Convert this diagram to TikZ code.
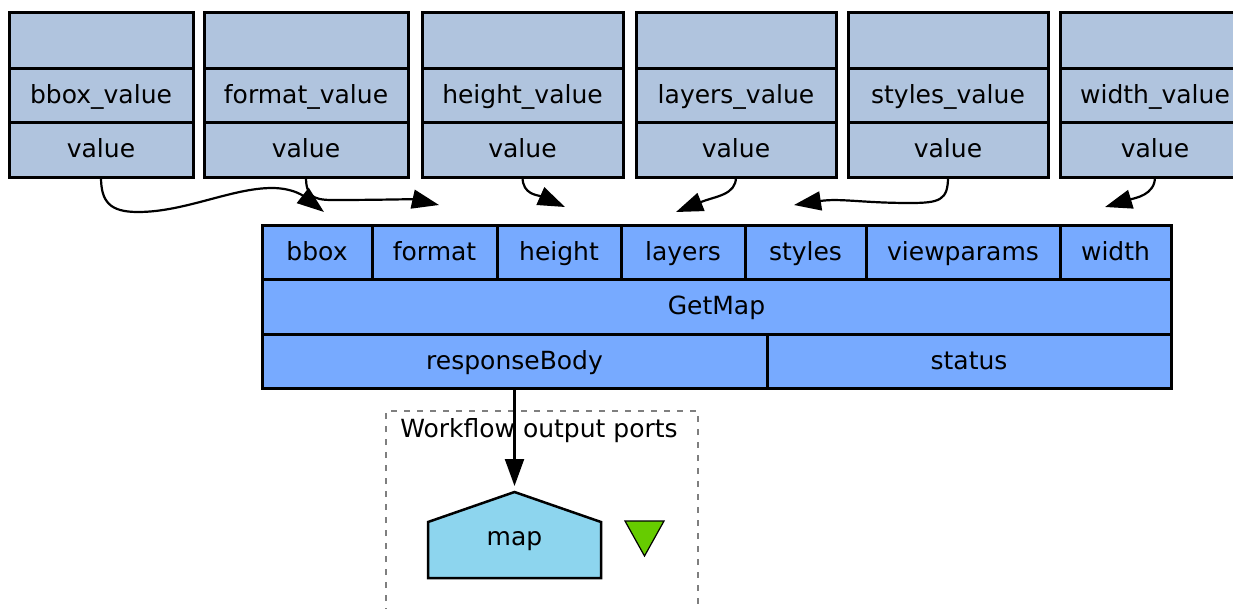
\documentclass[tikz,border=0pt]{standalone}
\usepackage{fontspec}
\setmainfont{DejaVu Sans}
\usetikzlibrary{arrows.meta}
\definecolor{valfill}{HTML}{B0C4DE}
\definecolor{procfill}{HTML}{77AAFF}
\definecolor{outfill}{HTML}{8DD5EE}
\definecolor{portgreen}{HTML}{66CC00}
\definecolor{groupline}{HTML}{7F7F7F}

% cell given by its corners: style, name, x1, y1, x2, y2, text
\newcommand{\cellbox}[7]{%
  \node[#1, minimum width={#5-#3}, minimum height={#6-#4}] (#2)
    at ({(#3+#5)/2},{(#4+#6)/2}) {#7};}

\tikzset{
  cell/.style={draw, line width=3pt, inner sep=0pt, outer sep=0pt,
    font=\fontsize{25}{29}\selectfont, text height=18pt, text depth=2pt},
  valcell/.style={cell, fill=valfill},
  proccell/.style={cell, fill=procfill},
  conn/.style={line width=2.2pt, -{Triangle[length=27pt,width=19pt]}},
  grouplabel/.style={font=\fontsize{25}{29}\selectfont, inner sep=0pt},
}

\begin{document}
\begin{tikzpicture}[x=1pt,y=-1pt]
\useasboundingbox (0,0) rectangle (1233,608);
\clip (0,0) rectangle (1233,608);

% input value holders
\cellbox{valcell}{h-bbox}{9}{12}{193}{68}{}
\cellbox{valcell}{n-bbox}{9}{68}{193}{122}{bbox\_value}
\cellbox{valcell}{v-bbox}{9}{122}{193}{177}{value}

\cellbox{valcell}{h-format}{204}{12}{408}{68}{}
\cellbox{valcell}{n-format}{204}{68}{408}{122}{format\_value}
\cellbox{valcell}{v-format}{204}{122}{408}{177}{value}

\cellbox{valcell}{h-height}{422}{12}{623}{68}{}
\cellbox{valcell}{n-height}{422}{68}{623}{122}{height\_value}
\cellbox{valcell}{v-height}{422}{122}{623}{177}{value}

\cellbox{valcell}{h-layers}{636}{12}{836}{68}{}
\cellbox{valcell}{n-layers}{636}{68}{836}{122}{layers\_value}
\cellbox{valcell}{v-layers}{636}{122}{836}{177}{value}

\cellbox{valcell}{h-styles}{848}{12}{1048}{68}{}
\cellbox{valcell}{n-styles}{848}{68}{1048}{122}{styles\_value}
\cellbox{valcell}{v-styles}{848}{122}{1048}{177}{value}

\cellbox{valcell}{h-width}{1060}{12}{1250}{68}{}
\cellbox{valcell}{n-width}{1060}{68}{1250}{122}{width\_value}
\cellbox{valcell}{v-width}{1060}{122}{1250}{177}{value}

% GetMap service with its ports
\cellbox{proccell}{p-bbox}{262}{225}{372}{279}{bbox}
\cellbox{proccell}{p-format}{372}{225}{497}{279}{format}
\cellbox{proccell}{p-height}{497}{225}{621}{279}{height}
\cellbox{proccell}{p-layers}{621}{225}{745}{279}{layers}
\cellbox{proccell}{p-styles}{745}{225}{866}{279}{styles}
\cellbox{proccell}{p-viewparams}{866}{225}{1060}{279}{viewparams}
\cellbox{proccell}{p-width}{1060}{225}{1171}{279}{width}
\cellbox{proccell}{getmap}{262}{279}{1171}{334}{GetMap}
\cellbox{proccell}{o-body}{262}{334}{767}{388}{responseBody}
\cellbox{proccell}{o-status}{767}{334}{1171}{388}{status}

% workflow output group
\draw[groupline, line width=2.2pt, dash pattern=on 6pt off 7pt]
  (386,640) -- (386,411) -- (698,411) -- (698,640);
\node[grouplabel] (grouptitle) at (539,431) {Workflow output ports};

\draw[line width=2.5pt, fill=outfill]
  (428,522) -- (514.5,492) -- (601,522) -- (601,578) -- (428,578) -- cycle;
\node[grouplabel] (map) at (514.5,541) {map};
\draw[line width=1.2pt, fill=portgreen] (625,521) -- (664,521) -- (644.5,556) -- cycle;

% arrow tips above the ports
\coordinate (t-bbox) at (324,212);
\coordinate (t-format) at (439,205);
\coordinate (t-height) at (565,207);
\coordinate (t-layers) at (676,212);
\coordinate (t-styles) at (794,205);
\coordinate (t-width) at (1105,207);
\coordinate (t-map) at (514.5,486);

% data links
\draw[conn] (v-bbox.south) .. controls (101,202) and (110,212) .. (138,212)
  .. controls (185,212) and (232,188) .. (272,188)
  .. controls (295,188) and (306,198) .. (t-bbox);
\draw[conn] (v-format.south) .. controls (306,195) and (312,200) .. (332,200)
  .. controls (380,200) and (412,199) .. (t-format);
\draw[conn] (v-height.south) .. controls (522.5,195) and (538,195) .. (t-height);
\draw[conn] (v-layers.south) .. controls (736,195) and (716,196) .. (t-layers);
\draw[conn] (v-styles.south) .. controls (948,200) and (940,203) .. (910,203)
  .. controls (862,203) and (840,198) .. (t-styles);
\draw[conn] (v-width.south) .. controls (1155,195) and (1135,198) .. (t-width);
\draw[conn] (o-body.south) -- (t-map);
\end{tikzpicture}
\end{document}
